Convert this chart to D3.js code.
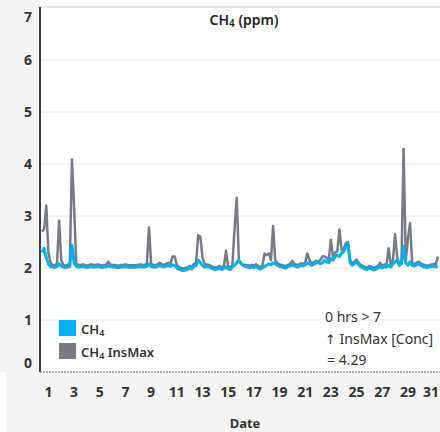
<!DOCTYPE html>
<html>
<head>
<meta charset="utf-8">
<script src="https://cdn.jsdelivr.net/npm/d3@7"></script>
<style>
  body { margin: 0; background: #fff; }
  svg { display: block; font-family: "Noto Sans", "Open Sans", sans-serif; }
</style>
</head>
<body>
<svg id="chart" width="440" height="432"></svg>
<script>
// day ticks on the x axis
const dayTicks = [1, 3, 5, 7, 9, 11, 13, 15, 17, 19, 21, 23, 25, 27, 29, 31];
const yTicks = [0, 1, 2, 3, 4, 5, 6, 7];

// readings every 4 hours, 6 per day, days 1..31
const ch4 = [
  2.30, 2.38, 2.20, 2.08, 2.03, 2.02,
  2.01, 2.03, 2.08, 2.04, 2.02, 2.01,
  2.02, 2.03, 2.44, 2.10, 2.03, 2.02,
  2.02, 2.03, 2.02, 2.01, 2.02, 2.03,
  2.02, 2.02, 2.03, 2.02, 2.01, 2.02,
  2.02, 2.04, 2.03, 2.02, 2.02, 2.01,
  2.01, 2.02, 2.02, 2.03, 2.02, 2.01,
  2.02, 2.01, 2.02, 2.02, 2.03, 2.02,
  2.02, 2.03, 2.08, 2.03, 2.02, 2.02,
  2.03, 2.05, 2.03, 2.02, 2.04, 2.05,
  2.03, 2.06, 2.05, 2.00, 1.98, 1.96,
  1.95, 1.96, 1.97, 2.00, 1.98, 2.03,
  2.05, 2.15, 2.10, 2.05, 2.02, 2.03,
  2.02, 2.00, 1.98, 1.97, 1.98, 2.00,
  1.97, 1.99, 2.02, 1.98, 1.97, 2.02,
  2.05, 2.10, 2.15, 2.08, 2.05, 2.03,
  2.02, 2.00, 2.02, 2.01, 2.03, 2.00,
  1.98, 2.00, 2.03, 2.05, 2.08, 2.06,
  2.10, 2.08, 2.05, 2.03, 2.02, 2.01,
  2.00, 2.03, 2.04, 2.06, 2.04, 2.02,
  2.03, 2.05, 2.04, 2.06, 2.10, 2.08,
  2.05, 2.07, 2.10, 2.12, 2.08, 2.10,
  2.15, 2.12, 2.10, 2.18, 2.15, 2.22,
  2.25, 2.22, 2.28, 2.32, 2.40, 2.46,
  2.10, 2.05, 2.08, 2.12, 2.06, 2.02,
  2.00, 1.98, 1.97, 2.00, 1.98, 1.96,
  1.98, 2.00, 2.02, 2.00, 2.03, 2.02,
  2.05, 2.02, 2.08, 2.12, 2.15, 2.05,
  2.08, 2.42, 2.10, 2.05, 2.12, 2.05,
  2.04, 2.06, 2.08, 2.05, 2.03, 2.02,
  2.00, 2.02, 2.03, 2.04, 2.02, 2.03
];

const insMax = [
  2.70, 2.75, 3.20, 2.30, 2.10, 2.06,
  2.05, 2.08, 2.91, 2.15, 2.06, 2.05,
  2.06, 2.10, 4.08, 3.18, 2.08, 2.06,
  2.06, 2.07, 2.06, 2.05, 2.06, 2.07,
  2.06, 2.06, 2.07, 2.06, 2.05, 2.06,
  2.06, 2.12, 2.07, 2.06, 2.06, 2.05,
  2.05, 2.06, 2.06, 2.07, 2.06, 2.05,
  2.06, 2.05, 2.06, 2.06, 2.07, 2.06,
  2.06, 2.08, 2.78, 2.08, 2.06, 2.06,
  2.07, 2.10, 2.07, 2.06, 2.08, 2.10,
  2.07, 2.22, 2.22, 2.06, 2.02, 2.00,
  1.99, 2.00, 2.01, 2.04, 2.02, 2.08,
  2.10, 2.63, 2.60, 2.20, 2.08, 2.07,
  2.06, 2.04, 2.02, 2.01, 2.02, 2.04,
  2.01, 2.03, 2.33, 2.02, 2.01, 2.06,
  2.77, 3.35, 2.15, 2.09, 2.07, 2.06,
  2.06, 2.04, 2.06, 2.05, 2.07, 2.04,
  2.02, 2.04, 2.28, 2.25, 2.28, 2.15,
  2.81, 2.15, 2.09, 2.07, 2.06, 2.05,
  2.04, 2.06, 2.08, 2.14, 2.08, 2.06,
  2.07, 2.09, 2.08, 2.10, 2.28, 2.15,
  2.09, 2.11, 2.14, 2.12, 2.15, 2.22,
  2.22, 2.20, 2.15, 2.54, 2.20, 2.30,
  2.32, 2.74, 2.35, 2.36, 2.48, 2.50,
  2.14, 2.09, 2.12, 2.16, 2.10, 2.06,
  2.04, 2.02, 2.01, 2.04, 2.02, 2.00,
  2.02, 2.04, 2.10, 2.04, 2.07, 2.06,
  2.38, 2.06, 2.15, 2.65, 2.20, 2.09,
  2.12, 4.29, 2.14, 2.56, 2.86, 2.09,
  2.08, 2.10, 2.12, 2.09, 2.07, 2.06,
  2.04, 2.06, 2.07, 2.08, 2.06, 2.22
];

const legendItems = [
  { label: "CH", sub: "4", rest: "", color: "#00b0f0" },
  { label: "CH", sub: "4", rest: " InsMax", color: "#767b87" }
];

const svg = d3.select("#chart");
const W = 440, H = 432;
const plotLeft = 40, plotTop = 8, plotBottom = 372, plotRight = 440;

// grey panels behind the axes
svg.append("rect").attr("x", 0).attr("y", 0).attr("width", plotLeft).attr("height", plotBottom).attr("fill", "#f4f4f4");
svg.append("rect").attr("x", 6).attr("y", plotBottom).attr("width", W - 6).attr("height", H - plotBottom).attr("fill", "#f4f4f4");
svg.append("line").attr("x1", plotLeft).attr("x2", plotRight).attr("y1", 7).attr("y2", 7)
  .attr("stroke", "#dcdcdc").attr("stroke-width", 1.5);

// time in days: day 1 00:00 -> 0
const x = d3.scaleLinear().domain([0, 31]).range([42, 440]);
const y = d3.scaleLinear().domain([0, 7]).range([plotBottom, plotTop]);

// gridlines
svg.append("g").selectAll("line").data(yTicks.filter(d => d > 0 && d < 7)).join("line")
  .attr("x1", plotLeft).attr("x2", plotRight)
  .attr("y1", d => y(d)).attr("y2", d => y(d))
  .attr("stroke", "#ececec").attr("stroke-width", 1);

// y labels
svg.append("g").selectAll("text").data(yTicks).join("text")
  .attr("x", 32)
  .attr("y", d => d === 7 ? y(d) + 9 : d === 0 ? y(d) - 9 : y(d))
  .attr("dy", "0.36em")
  .attr("text-anchor", "end")
  .attr("font-size", 14).attr("font-weight", "bold").attr("fill", "#333")
  .text(d => d);

// x labels, centred on midday; the last one kept inside the frame
svg.append("g").selectAll("text").data(dayTicks).join("text")
  .attr("x", d => d === 31 ? 439 : x(d - 0.5))
  .attr("y", 397)
  .attr("text-anchor", d => d === 31 ? "end" : "middle")
  .attr("font-size", 14).attr("font-weight", "bold").attr("fill", "#333")
  .text(d => d);

svg.append("text").attr("x", 245).attr("y", 428).attr("text-anchor", "middle")
  .attr("font-size", 13).attr("font-weight", "bold").attr("fill", "#333").text("Date");

// lines
const line = d3.line().x((d, i) => x(i / 6)).y(d => y(d));
svg.append("path").datum(insMax).attr("d", line)
  .attr("fill", "none").attr("stroke", "#767b87").attr("stroke-width", 2.5).attr("stroke-linejoin", "round");
svg.append("path").datum(ch4).attr("d", line)
  .attr("fill", "none").attr("stroke", "#00b0f0").attr("stroke-width", 3).attr("stroke-linejoin", "round");

// axis lines
svg.append("line").attr("x1", plotLeft).attr("x2", plotLeft).attr("y1", 7).attr("y2", plotBottom)
  .attr("stroke", "#000").attr("stroke-width", 1.5);
svg.append("line").attr("x1", plotLeft).attr("x2", plotRight).attr("y1", plotBottom).attr("y2", plotBottom)
  .attr("stroke", "#666").attr("stroke-width", 1).attr("stroke-dasharray", "2,1");

// title
const title = svg.append("text").attr("x", 244).attr("y", 25).attr("text-anchor", "middle")
  .attr("font-size", 14).attr("font-weight", 600).attr("fill", "#222");
title.append("tspan").text("CH");
title.append("tspan").attr("font-size", 10).attr("dy", 2).text("4");
title.append("tspan").attr("dy", -2).text(" (ppm)");

// legend
const lg = svg.append("g").selectAll("g").data(legendItems).join("g")
  .attr("transform", (d, i) => `translate(59, ${320 + i * 23})`);
lg.append("rect").attr("width", 17).attr("height", 16).attr("fill", d => d.color);
const lt = lg.append("text").attr("x", 22).attr("y", 14).attr("font-size", 13)
  .attr("font-weight", 600).attr("fill", "#333");
lt.append("tspan").text(d => d.label);
lt.append("tspan").attr("font-size", 9).attr("dy", 2).text(d => d.sub);
lt.append("tspan").attr("dy", -2).text(d => d.rest);

// annotation
const note = svg.append("g").attr("font-size", 14).attr("fill", "#333");
note.append("text").attr("x", 325).attr("y", 322).text("0 hrs > 7");
const n2 = note.append("text").attr("x", 325).attr("y", 344);
n2.append("tspan").attr("font-family", "DejaVu Sans").attr("font-size", 13).text("↑");
n2.append("tspan").text(" InsMax [Conc]");
note.append("text").attr("x", 327).attr("y", 365).text("= 4.29");
</script>
</body>
</html>
